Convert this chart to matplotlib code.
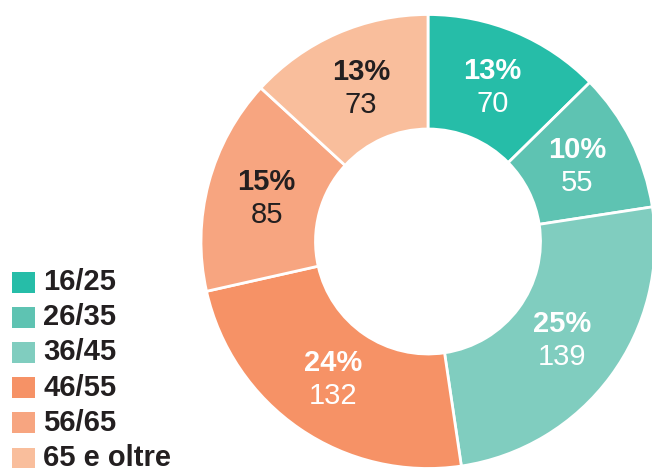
import numpy as np
import matplotlib
matplotlib.use("Agg")
import matplotlib.pyplot as plt
from matplotlib.patches import Rectangle

# data
categories = ["16/25", "26/35", "36/45", "46/55", "56/65", "65 e oltre"]
values = [70, 55, 139, 132, 85, 73]
percents = ["13%", "10%", "25%", "24%", "15%", "13%"]
colors = ["#26BDA8", "#5EC3B2", "#80CDBF", "#F69266", "#F7A580", "#F9BE9C"]
text_colors = ["white", "white", "white", "white", "#231F20", "#231F20"]

plt.rcParams['font.family'] = ['Liberation Sans', 'DejaVu Sans']

W, H = 652, 468
fig = plt.figure(figsize=(W / 100, H / 100), dpi=100)
ax = fig.add_axes([0, 0, 1, 1])

cx, cy = 428, H - 241.5
r_out, r_in = 227, 112.5

wedges, _ = ax.pie(values, colors=colors, startangle=90, counterclock=False,
                   radius=r_out, center=(cx, cy), frame=True,
                   wedgeprops=dict(width=r_out - r_in, edgecolor='white', linewidth=2))
ax.set_xlim(0, W)
ax.set_ylim(0, H)
ax.axis('off')

# labels in the middle of each wedge
r_lab = 167
for w, pct, val, tc in zip(wedges, percents, values, text_colors):
    ang = np.deg2rad((w.theta1 + w.theta2) / 2)
    x = cx + r_lab * np.cos(ang)
    y = cy + r_lab * np.sin(ang)
    ax.text(x, y + 16.5, pct, ha='center', va='center', fontsize=21,
            fontweight='bold', color=tc)
    ax.text(x, y - 16.5, str(val), ha='center', va='center', fontsize=21,
            color=tc)

# legend
for i, (cat, col) in enumerate(zip(categories, colors)):
    yc = H - (282 + 35.2 * i)
    ax.add_patch(Rectangle((12, yc - 10.5), 23, 21, facecolor=col, edgecolor='none'))
    ax.text(43, yc, cat, ha='left', va='center', fontsize=21, fontweight='bold',
            color='#231F20')

fig.savefig("out.png", dpi=100)
